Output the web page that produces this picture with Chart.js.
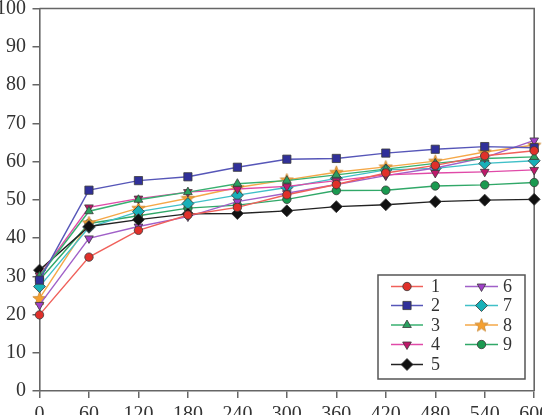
<!DOCTYPE html>
<html><head><meta charset="utf-8">
<script src="https://cdn.jsdelivr.net/npm/chart.js@4/dist/chart.umd.min.js"></script>
<style>html,body{margin:0;padding:0;background:#fff;overflow:hidden}#wrap{width:542px;height:415px;position:relative}</style>
</head><body><div id="wrap"><canvas id="c" width="542" height="415"></canvas></div>
<script>
const xValues = [0, 60, 120, 180, 240, 300, 360, 420, 480, 540, 600];
const seriesNames = ["1", "2", "3", "4", "5", "6", "7", "8", "9"];
const s1 = [19.9, 35.0, 42.0, 46.0, 48.0, 51.3, 54.0, 57.0, 59.0, 61.5, 62.8];
const s2 = [29.0, 52.5, 55.0, 56.0, 58.5, 60.6, 60.8, 62.2, 63.2, 63.9, 63.6];
const s3 = [30.0, 47.0, 50.0, 52.0, 54.2, 55.0, 56.5, 58.0, 59.5, 60.8, 61.2];
const s4 = [30.2, 48.0, 50.3, 52.0, 52.8, 53.5, 55.0, 56.5, 57.0, 57.3, 57.8];
const s5 = [31.6, 43.0, 44.8, 46.3, 46.4, 47.1, 48.2, 48.7, 49.5, 49.9, 50.1];
const s6 = [22.5, 39.9, 43.0, 45.6, 49.5, 51.7, 54.0, 56.3, 58.3, 61.0, 65.5];
const s7 = [27.3, 42.8, 46.9, 49.0, 51.2, 53.2, 55.6, 57.8, 58.2, 59.5, 60.2];
const s8 = [24.2, 44.0, 47.8, 50.4, 53.2, 55.2, 57.2, 58.6, 60.1, 62.5, 64.3];
const s9 = [29.0, 43.8, 45.8, 47.8, 48.6, 50.1, 52.4, 52.5, 53.6, 53.9, 54.5];
const xTickStep = 60, yTickStep = 10;

function starCanvas(fill, stroke) {
  const c = document.createElement('canvas'); c.width = 15; c.height = 15;
  const g = c.getContext('2d');
  g.beginPath();
  for (let i = 0; i < 10; i++) {
    const r = i % 2 === 0 ? 7 : 3;
    const a = -Math.PI / 2 + i * Math.PI / 5;
    const px = 7.5 + r * Math.cos(a), py = 8 + r * Math.sin(a);
    i === 0 ? g.moveTo(px, py) : g.lineTo(px, py);
  }
  g.closePath(); g.fillStyle = fill; g.fill(); g.lineWidth = 0.8; g.strokeStyle = stroke; g.stroke();
  return c;
}
const star = starCanvas('#f5a030', '#c98a3a');

const styles = [
  {line: '#f0605a', fill: '#e0302a', style: 'circle', r: 4.2, rot: 0},
  {line: '#5656b8', fill: '#30309a', style: 'rect', r: 5.8, rot: 0},
  {line: '#38b070', fill: '#2aa060', style: 'triangle', r: 5, rot: 0},
  {line: '#e04aa8', fill: '#c0186a', style: 'triangle', r: 5, rot: 180},
  {line: '#222222', fill: '#111111', style: 'rectRot', r: 6, rot: 0},
  {line: '#a060c8', fill: '#a040c8', style: 'triangle', r: 5, rot: 180},
  {line: '#40c0c8', fill: '#18b0b8', style: 'rectRot', r: 6, rot: 0},
  {line: '#f5a848', fill: '#f5a030', style: star, r: 7, rot: 0},
  {line: '#30a868', fill: '#1a9a50', style: 'circle', r: 4.2, rot: 0}
];
const allSeries = [s1, s2, s3, s4, s5, s6, s7, s8, s9];

const datasets = allSeries.map((vals, i) => ({
  label: seriesNames[i],
  data: vals.map((v, j) => ({x: xValues[j], y: v})),
  borderColor: styles[i].line,
  borderWidth: 1.4,
  backgroundColor: styles[i].fill,
  pointBackgroundColor: styles[i].fill,
  pointBorderColor: '#3a3a3a',
  pointBorderWidth: 0.8,
  pointStyle: styles[i].style,
  pointRadius: styles[i].r,
  pointRotation: styles[i].rot,
  tension: 0,
  clip: false
}));

const framePlugin = {
  id: 'frame',
  beforeDraw(chart) {
    const g = chart.ctx; g.save(); g.fillStyle = '#fff'; g.fillRect(0, 0, chart.width, chart.height); g.restore();
  },
  beforeDatasetsDraw(chart) {
    const a = chart.chartArea, g = chart.ctx;
    g.save(); g.strokeStyle = '#666'; g.lineWidth = 1.6;
    g.beginPath(); g.moveTo(a.left, a.top); g.lineTo(a.right, a.top); g.lineTo(a.right, a.bottom); g.stroke();
    g.restore();
  },
  afterDraw(chart) {
    const g = chart.ctx;
    g.save();
    g.fillStyle = '#fff'; g.strokeStyle = '#555'; g.lineWidth = 1.5;
    g.fillRect(378, 275, 147, 104); g.strokeRect(378, 275, 147, 104);
    const cols = [{x0: 391, x1: 423, tx: 431}, {x0: 465, x1: 498, tx: 503}];
    const rowY = [286.5, 305.5, 325, 344.5, 364.5];
    g.font = '18px "Liberation Serif", serif'; g.textBaseline = 'middle'; g.textAlign = 'left';
    chart.data.datasets.forEach((ds, i) => {
      const col = i < 5 ? cols[0] : cols[1];
      const y = i < 5 ? rowY[i] : rowY[i - 5];
      g.strokeStyle = ds.borderColor; g.lineWidth = 1.5;
      g.beginPath(); g.moveTo(col.x0, y); g.lineTo(col.x1, y); g.stroke();
      g.fillStyle = ds.pointBackgroundColor; g.strokeStyle = ds.pointBorderColor; g.lineWidth = ds.pointBorderWidth;
      Chart.helpers.drawPoint(g, {pointStyle: ds.pointStyle, radius: ds.pointRadius, rotation: ds.pointRotation, borderWidth: ds.pointBorderWidth}, (col.x0 + col.x1) / 2, y);
      g.fillStyle = '#333';
      g.fillText(ds.label, col.tx, y + 1);
    });
    g.restore();
  }
};

const tickFont = {family: '"Liberation Serif", serif', size: 20};
new Chart(document.getElementById('c'), {
  type: 'line',
  data: {datasets},
  plugins: [framePlugin],
  options: {
    responsive: false,
    animation: false,
    events: [],
    layout: {padding: {left: 0, top: 8.5, right: 5.3, bottom: 0}},
    plugins: {legend: {display: false}, tooltip: {enabled: false}},
    scales: {
      x: {
        type: 'linear', min: 0, max: 600,
        ticks: {stepSize: xTickStep, font: tickFont, color: '#333', padding: 5, maxRotation: 0, autoSkip: false},
        grid: {display: true, drawOnChartArea: false, drawTicks: true, tickLength: 7, color: '#666', lineWidth: 1.5},
        border: {display: true, color: '#666', width: 1.6},
        afterFit(s) { s.height = 24; s.paddingLeft = 0; s.paddingRight = 0; }
      },
      y: {
        type: 'linear', min: 0, max: 100,
        ticks: {stepSize: yTickStep, font: tickFont, color: '#333', padding: 6.5},
        grid: {display: true, drawOnChartArea: false, drawTicks: true, tickLength: 7, color: '#666', lineWidth: 1.5},
        border: {display: true, color: '#666', width: 1.6},
        afterFit(s) { s.width = 39.5; s.paddingTop = 0; s.paddingBottom = 0; }
      }
    }
  }
});
</script></body></html>
